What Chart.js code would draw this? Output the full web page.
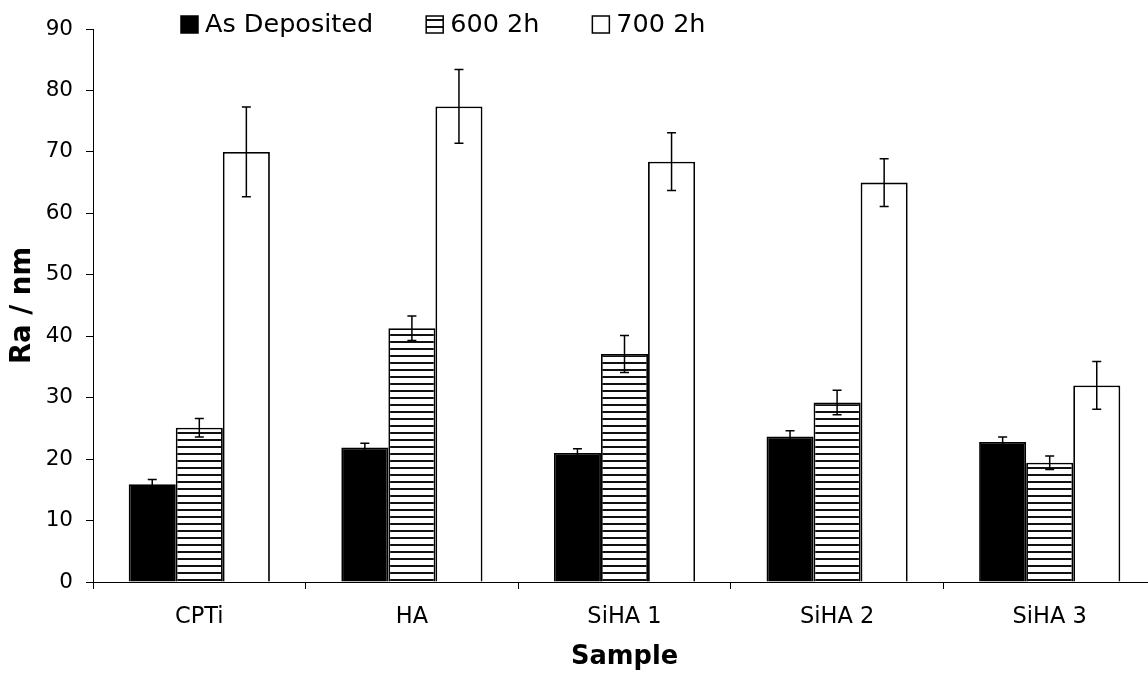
<!DOCTYPE html>
<html>
<head>
<meta charset="utf-8">
<script src="https://cdn.jsdelivr.net/npm/chart.js@4"></script>
<style>
  html, body { margin: 0; padding: 0; background: #fff; overflow: hidden; }
  /* the original is cropped on the right, so the chart is a bit wider than the window */
  #wrap { width: 1156px; height: 673px; position: relative; }
</style>
</head>
<body>
<div id="wrap"><canvas id="myChart"></canvas></div>
<script>
'use strict';

// * Samples on the x axis.
const categories = ['CPTi', 'HA', 'SiHA 1', 'SiHA 2', 'SiHA 3'];
const seriesNames = ['As Deposited', '600 2h', '700 2h'];

// * Ra (nm) and its error (+/-) for each treatment.
const asDeposited = [15.9, 21.9, 21.0, 23.7, 22.8];
const asDepositedErr = [0.8, 0.7, 0.7, 0.9, 0.8];
const h600 = [25.1, 41.3, 37.1, 29.2, 19.4];
const h600Err = [1.5, 2.0, 3.0, 2.0, 1.1];
const h700 = [70.0, 77.4, 68.4, 65.0, 32.0];
const h700Err = [7.3, 6.0, 4.7, 3.9, 3.9];

const yTicks = [0, 10, 20, 30, 40, 50, 60, 70, 80, 90];

const canvas = document.getElementById('myChart');
const ctx = canvas.getContext('2d');

// * Horizontal stripes for the 600 2h bars.
function stripes() {
  const p = document.createElement('canvas');
  p.width = 8;
  p.height = 7;
  const pc = p.getContext('2d');
  pc.fillStyle = '#fff';
  pc.fillRect(0, 0, 8, 7);
  pc.fillStyle = '#111';
  pc.fillRect(0, 5, 8, 2);
  return ctx.createPattern(p, 'repeat');
}

const fills = ['#000', stripes(), '#fff'];

const errorBars = {
  id: 'errorBars',
  afterDatasetsDraw(chart) {
    const c = chart.ctx;
    const y = chart.scales.y;
    c.save();
    c.strokeStyle = '#000';
    c.lineWidth = 1.5;
    chart.data.datasets.forEach((ds, i) => {
      chart.getDatasetMeta(i).data.forEach((bar, j) => {
        const v = ds.data[j];
        const e = ds.errors[j];
        const top = y.getPixelForValue(v + e);
        const bot = y.getPixelForValue(v - e);
        c.beginPath();
        c.moveTo(bar.x, top);
        c.lineTo(bar.x, bot);
        c.moveTo(bar.x - 4.5, top);
        c.lineTo(bar.x + 4.5, top);
        c.moveTo(bar.x - 4.5, bot);
        c.lineTo(bar.x + 4.5, bot);
        c.stroke();
      });
    });
    c.restore();
  },
};

// * Legend sits left of centre in the original, so it is drawn by hand.
const topLegend = {
  id: 'topLegend',
  afterDraw(chart) {
    const c = chart.ctx;
    let x = 181;
    const box = 17;
    c.save();
    c.font = '25.5px "DejaVu Sans"';
    c.textBaseline = 'middle';
    c.textAlign = 'left';
    chart.data.datasets.forEach((ds) => {
      c.fillStyle = ds.backgroundColor;
      c.fillRect(x, 16, box, box);
      c.strokeStyle = '#000';
      c.lineWidth = 1.5;
      c.strokeRect(x, 16, box, box);
      x += box + 7;
      c.fillStyle = '#000';
      c.fillText(ds.label, x, 25);
      x += c.measureText(ds.label).width + 53;
    });
    c.restore();
  },
};

const myChart = new Chart(ctx, {
  type: 'bar',
  data: {
    labels: categories,
    datasets: [
      { label: seriesNames[0], data: asDeposited, errors: asDepositedErr },
      { label: seriesNames[1], data: h600, errors: h600Err },
      { label: seriesNames[2], data: h700, errors: h700Err },
    ].map((ds, i) => ({
      ...ds,
      backgroundColor: fills[i],
      borderColor: '#000',
      borderWidth: 1.8,
      categoryPercentage: 0.664,
      barPercentage: 1,
    })),
  },
  options: {
    responsive: true,
    maintainAspectRatio: false,
    animation: false,
    layout: { padding: { top: 29, right: 0, left: 0, bottom: 0 } },
    plugins: {
      legend: { display: false },
      tooltip: { enabled: false },
    },
    scales: {
      x: {
        grid: {
          offset: true,
          drawOnChartArea: false,
          drawTicks: true,
          tickLength: 7,
          color: '#000',
        },
        border: { display: true, color: '#000', width: 1 },
        ticks: {
          color: '#000',
          padding: 15,
          font: { family: 'DejaVu Sans', size: 22.5 },
        },
        title: {
          display: true,
          text: 'Sample',
          color: '#000',
          padding: { top: 0, bottom: 0 },
          font: { family: 'DejaVu Sans', size: 25.7, weight: 'bold' },
        },
        afterFit(scale) { scale.height = 91; },
      },
      y: {
        min: 0,
        max: 90,
        afterBuildTicks(scale) { scale.ticks = yTicks.map((v) => ({ value: v })); },
        grid: {
          drawOnChartArea: false,
          drawTicks: true,
          tickLength: 7,
          color: '#000',
        },
        border: { display: true, color: '#000', width: 1 },
        ticks: {
          color: '#000',
          padding: 13,
          font: { family: 'DejaVu Sans', size: 21.5 },
        },
        title: {
          display: true,
          text: 'Ra / nm',
          color: '#000',
          padding: { top: 6, bottom: 0 },
          font: { family: 'DejaVu Sans', size: 27.5, weight: 'bold' },
        },
        afterFit(scale) { scale.width = 93; },
      },
    },
  },
  plugins: [errorBars, topLegend],
});
</script>
</body>
</html>
